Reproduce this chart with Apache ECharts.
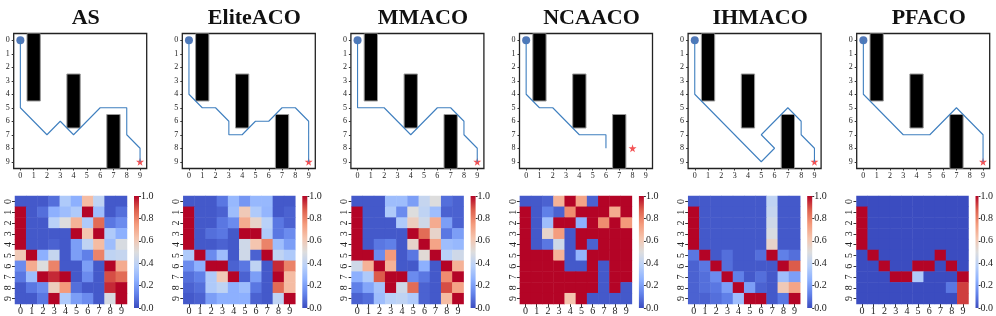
<!DOCTYPE html>
<html><head><meta charset="utf-8">
<script src="https://cdn.jsdelivr.net/npm/echarts@6/dist/echarts.min.js"></script>
<style>html,body{margin:0;padding:0;background:#fff}#c{width:996px;height:316px}</style>
</head><body><div id="c"></div>
<script>
const titles = ['AS','EliteACO','MMACO','NCAACO','IHMACO','PFACO'];
const tickLabels = ['0','1','2','3','4','5','6','7','8','9'];
const tickValues = [0,1,2,3,4,5,6,7,8,9];
const obstacles = [[0.5,1.5,-0.5,4.5],[3.5,4.5,2.5,6.5],[6.5,7.5,5.5,9.5]];
const startPoint = [0,0];
const goals = [[9,9],[9,9],[9,9],[8,8],[9,9],[9,9]];
const pathAS = [[0,0],[0,5],[2,7],[3,6],[4,7],[6,5],[8,5],[8,7],[9,8],[9,9]];
const pathElite = [[0,0],[0,4],[1,5],[2,5],[3,6],[3,7],[4,7],[5,6],[6,6],[7,5],[8,5],[9,6],[9,9]];
const pathMM = [[0,0],[0,5],[2,5],[4,7],[6,5],[7,5],[8,6],[8,7],[9,8],[9,9]];
const pathNCA = [[0,0],[0,4],[1,5],[2,5],[4,7],[6,7],[6,8]];
const pathIHM = [[0,0],[0,4],[5,9],[6,8],[5,7],[7,5],[8,6],[8,7],[9,8],[9,9]];
const pathPF = [[0,0],[0,4],[3,7],[5,7],[7,5],[9,7],[9,9]];
const paths = [pathAS,pathElite,pathMM,pathNCA,pathIHM,pathPF];

const heatAS = [
 [0.03,0.03,0.03,0.08,0.35,0.25,0.65,0.4,0.03,0.03],
 [1.0,0.03,0.08,0.25,0.3,0.35,1.0,0.3,0.03,0.08],
 [1.0,0.03,0.03,0.38,0.5,0.68,0.35,0.85,0.1,0.15],
 [1.0,0.03,0.03,0.03,0.03,1.0,0.62,1.0,0.35,0.25],
 [1.0,0.03,0.03,0.05,0.03,0.2,0.4,0.65,0.3,0.48],
 [0.6,1.0,0.25,0.42,0.03,0.2,0.12,0.8,0.4,0.42],
 [0.15,0.7,0.5,0.8,0.03,0.03,0.2,0.03,1.0,0.7],
 [0.1,0.3,1.0,0.95,1.0,0.03,0.15,0.03,0.9,0.85],
 [0.03,0.1,0.15,0.58,0.75,0.08,0.03,0.03,0.95,1.0],
 [0.03,0.03,0.1,1.0,0.35,0.2,0.15,0.03,0.48,1.0]];
const heatElite = [
 [0.03,0.03,0.03,0.1,0.28,0.18,0.28,0.28,0.03,0.03],
 [1.0,0.03,0.03,0.05,0.3,0.6,0.35,0.27,0.03,0.05],
 [1.0,0.03,0.03,0.1,0.15,0.7,0.55,0.38,0.1,0.05],
 [1.0,0.03,0.08,0.1,0.03,1.0,1.0,0.35,0.1,0.15],
 [1.0,0.03,0.03,0.05,0.03,0.45,0.62,0.8,0.3,0.2],
 [0.35,1.0,0.15,0.3,0.03,0.45,0.05,1.0,0.4,0.35],
 [0.15,0.25,1.0,1.0,0.05,0.1,0.4,0.03,0.95,0.8],
 [0.08,0.12,0.35,0.6,1.0,0.05,0.2,0.03,1.0,0.65],
 [0.05,0.08,0.35,0.4,0.25,0.3,0.1,0.03,0.85,0.65],
 [0.03,0.05,0.2,0.25,0.25,0.25,0.05,0.03,0.4,1.0]];
const heatMM = [
 [0.03,0.03,0.03,0.3,0.3,0.2,0.42,0.5,0.08,0.05],
 [1.0,0.03,0.03,0.35,0.15,0.5,0.4,0.3,0.05,0.05],
 [1.0,0.03,0.03,0.03,0.35,0.58,0.45,0.7,0.2,0.05],
 [1.0,0.03,0.03,0.03,0.03,1.0,0.85,0.55,0.1,0.2],
 [1.0,0.03,0.1,0.12,0.03,0.55,1.0,0.72,0.3,0.28],
 [1.0,1.0,0.15,0.75,0.03,0.1,0.52,1.0,0.38,0.45],
 [0.45,0.68,1.0,0.68,0.03,0.03,0.25,0.03,1.0,0.68],
 [0.25,0.35,0.88,1.0,1.0,0.15,0.1,0.03,0.78,1.0],
 [0.12,0.22,0.32,1.0,0.45,0.85,0.05,0.03,0.9,0.72],
 [0.05,0.08,0.3,0.38,0.4,0.35,0.05,0.03,0.65,1.0]];
const heatNCA = [
 [0.03,0.03,0.05,0.68,1.0,0.72,0.05,1.0,1.0,1.0],
 [1.0,0.03,0.12,0.05,0.78,1.0,1.0,1.0,0.7,1.0],
 [1.0,0.03,0.3,1.0,1.0,0.25,1.0,0.78,1.0,0.75],
 [1.0,0.03,0.55,0.74,0.03,1.0,1.0,1.0,1.0,1.0],
 [1.0,0.03,0.1,0.45,0.03,1.0,0.05,1.0,1.0,1.0],
 [1.0,1.0,1.0,0.68,0.03,0.27,1.0,1.0,1.0,1.0],
 [1.0,1.0,1.0,1.0,0.03,0.03,1.0,0.03,1.0,1.0],
 [1.0,1.0,1.0,1.0,1.0,1.0,1.0,0.03,1.0,1.0],
 [1.0,1.0,1.0,1.0,1.0,1.0,1.0,0.03,1.0,0.03],
 [1.0,1.0,1.0,1.0,0.62,1.0,0.03,0.03,0.03,0.03]];
const heatIHM = [
 [0.03,0.03,0.03,0.03,0.03,0.03,0.03,0.4,0.03,0.03],
 [1.0,0.03,0.03,0.03,0.03,0.03,0.03,0.42,0.03,0.03],
 [1.0,0.03,0.03,0.03,0.03,0.03,0.03,0.45,0.03,0.03],
 [1.0,0.03,0.03,0.03,0.03,0.03,0.03,0.48,0.03,0.03],
 [1.0,0.03,0.03,0.03,0.03,0.03,0.03,0.55,0.03,0.03],
 [0.1,1.0,0.03,0.08,0.03,0.03,0.08,1.0,0.12,0.08],
 [0.05,0.1,1.0,0.08,0.03,0.03,0.03,0.03,1.0,0.88],
 [0.05,0.08,0.15,1.0,0.12,0.03,0.08,0.03,0.3,0.2],
 [0.05,0.08,0.1,0.2,1.0,0.2,0.05,0.03,0.6,0.72],
 [0.05,0.05,0.08,0.12,0.3,1.0,1.0,0.03,0.1,1.0]];
const heatPF = [
 [0,0,0,0,0,0,0,0,0,0],
 [1,0,0,0,0,0,0,0,0,0],
 [1,0,0,0,0,0,0,0,0,0],
 [1,0,0,0,0,0,0,0,0,0],
 [1,0,0,0,0,0,0,0,0,0],
 [0,1,0,0,0,0,0,1,0,0],
 [0,0,1,0,0,1,1,0,1,0],
 [0,0,0,1,1,0.35,0,0,0,1],
 [0,0,0,0,0,0,0,0,0.1,0.92],
 [0,0,0,0,0,0,0,0,0,0.92]];
const heats = [heatAS,heatElite,heatMM,heatNCA,heatIHM,heatPF];
const coolwarm = ['#3b4cc0','#6282ea','#8db0fe','#b8d0f9','#dddddd','#f5c4ad','#f49a7b','#de604d','#b40426'];

const FONT = '"Liberation Serif","Times New Roman",serif';
const chart = echarts.init(document.getElementById('c'), null, {renderer:'canvas'});
const grid=[], xAxis=[], yAxis=[], series=[], title=[];
const heatSeriesIdx=[];
const starPath = 'path://M50,0 L61,35 L98,35 L68,57 L79,91 L50,70 L21,91 L32,57 L2,35 L39,35 Z';

for (let i=0;i<6;i++){
  const L = 13.7 + 168.6*i;
  title.push({text:titles[i], left:L+67, top:2, textAlign:'center',
    textStyle:{fontFamily:FONT, fontWeight:'bold', fontSize:22, color:'#111'}});
  const gT = grid.length;
  grid.push({left:L, top:33.5, width:133, height:135, show:true, borderColor:'#222', borderWidth:1.3, backgroundColor:'#fff'});
  xAxis.push({type:'value', gridIndex:gT, min:-0.5, max:9.5, position:'bottom', splitLine:{show:false},
    axisLine:{show:false, onZero:false},
    axisTick:{show:true, customValues:tickValues, length:2, lineStyle:{color:'#333'}},
    axisLabel:{customValues:tickValues, fontFamily:FONT, fontSize:8, color:'#222', margin:3}});
  yAxis.push({type:'value', gridIndex:gT, min:-0.5, max:9.5, inverse:true, position:'left', splitLine:{show:false},
    axisLine:{show:false, onZero:false},
    axisTick:{show:true, customValues:tickValues, length:2, lineStyle:{color:'#333'}},
    axisLabel:{customValues:tickValues, fontFamily:FONT, fontSize:8, color:'#222', margin:4}});
  series.push({type:'custom', xAxisIndex:gT, yAxisIndex:gT, clip:true, silent:true,
    data:obstacles, encode:{x:[0,1], y:[2,3]},
    renderItem:function(params, api){
      const p0 = api.coord([api.value(0), api.value(2)]);
      const p1 = api.coord([api.value(1), api.value(3)]);
      return {type:'rect', shape:{x:Math.min(p0[0],p1[0]), y:Math.min(p0[1],p1[1]),
        width:Math.abs(p1[0]-p0[0]), height:Math.abs(p1[1]-p0[1])},
        style:{fill:'#000', stroke:'#999', lineWidth:1}};
    }});
  series.push({type:'line', xAxisIndex:gT, yAxisIndex:gT, data:paths[i], showSymbol:false,
    lineStyle:{color:'#3f7fbf', width:1.1}, silent:true});
  series.push({type:'scatter', xAxisIndex:gT, yAxisIndex:gT, data:[startPoint], symbol:'circle',
    symbolSize:8, itemStyle:{color:'#2456a6'}, silent:true});
  series.push({type:'scatter', xAxisIndex:gT, yAxisIndex:gT, data:[goals[i]], symbol:starPath,
    symbolSize:8, itemStyle:{color:'#f0282a'}, silent:true});

  const H = 15 + 168.3*i;
  const gH = grid.length;
  grid.push({left:H, top:196, width:112, height:112});
  xAxis.push({type:'category', gridIndex:gH, data:tickLabels, axisLine:{show:false},
    axisTick:{show:true, alignWithLabel:true, length:3, lineStyle:{color:'#333'}},
    splitLine:{show:false},
    axisLabel:{fontFamily:FONT, fontSize:10, color:'#222', margin:2}});
  yAxis.push({type:'category', gridIndex:gH, data:tickLabels, inverse:true, axisLine:{show:false},
    axisTick:{show:true, alignWithLabel:true, length:3, lineStyle:{color:'#333'}},
    splitLine:{show:false},
    axisLabel:{fontFamily:FONT, fontSize:10, color:'#222', margin:2, rotate:90}});
  const hd=[];
  heats[i].forEach((row,r)=>row.forEach((v,c)=>hd.push([c,r,v])));
  heatSeriesIdx.push(series.length);
  series.push({type:'heatmap', xAxisIndex:gH, yAxisIndex:gH, data:hd, silent:true,
    itemStyle:{borderWidth:0}});

  const gC = grid.length;
  grid.push({left:H+119, top:196, width:5, height:112});
  xAxis.push({type:'category', gridIndex:gC, data:[''], show:false});
  yAxis.push({type:'value', gridIndex:gC, min:0, max:1, interval:0.2, position:'right',
    splitLine:{show:false}, axisLine:{show:false},
    axisTick:{show:true, length:2, lineStyle:{color:'#333'}},
    axisLabel:{fontFamily:FONT, fontSize:10, color:'#222', margin:2,
      formatter:v=>v.toFixed(1)}});
  series.push({type:'bar', xAxisIndex:gC, yAxisIndex:gC, data:[1], barWidth:'100%', silent:true,
    itemStyle:{color:new echarts.graphic.LinearGradient(0,1,0,0,
      coolwarm.map((c,k)=>({offset:k/(coolwarm.length-1), color:c})))}});
}

chart.setOption({
  animation:false,
  title, grid, xAxis, yAxis, series,
  visualMap:[{type:'continuous', show:false, min:0, max:1, seriesIndex:heatSeriesIdx,
    inRange:{color:coolwarm}}]
});
</script></body></html>
